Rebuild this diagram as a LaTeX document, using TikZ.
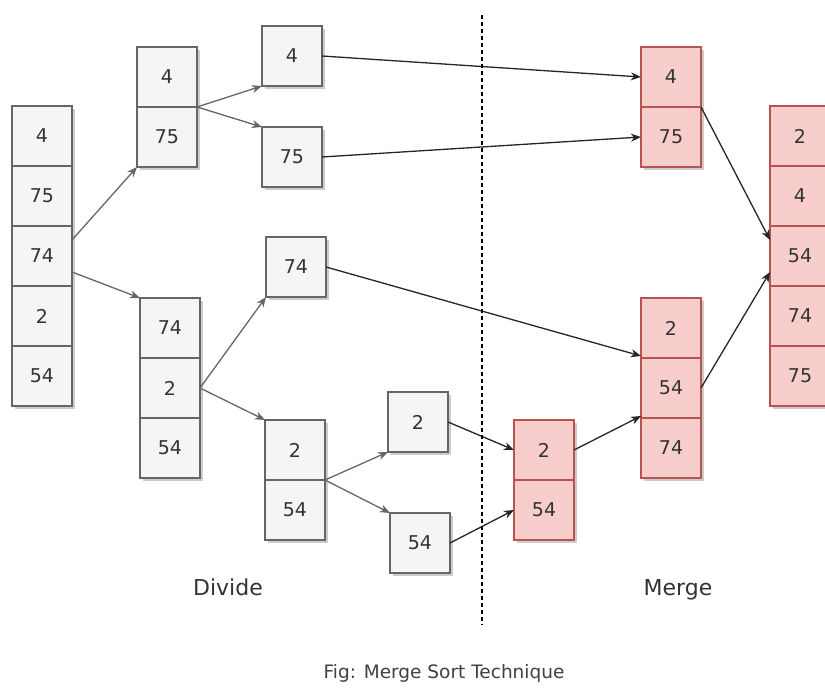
\documentclass[tikz,border=0pt]{standalone}
\usepackage{fontspec}
\setmainfont{DejaVu Sans}
\usetikzlibrary{arrows.meta,shadows}

\definecolor{cellfill}{HTML}{F5F5F5}
\definecolor{celldraw}{HTML}{666666}
\definecolor{mergefill}{HTML}{F8CECC}
\definecolor{mergedraw}{HTML}{B85450}
\definecolor{txt}{HTML}{333333}

\tikzset{
  cellshadow/.style={drop shadow={shadow xshift=3pt,shadow yshift=-3pt,fill=black,opacity=0.2}},
  cell/.style={rectangle,draw=celldraw,fill=cellfill,line width=1.2pt,
    minimum width=60pt,minimum height=60pt,inner sep=0pt,outer sep=0pt,
    font=\fontsize{19}{22}\selectfont,text=txt,cellshadow},
  mcell/.style={cell,draw=mergedraw,fill=mergefill},
  tip/.style={-{Stealth[length=10pt,width=8pt,inset=3pt]}},
  div/.style={draw=celldraw,line width=1.3pt,tip},
  mrg/.style={draw=black!85,line width=1.3pt,tip},
  lbl/.style={font=\fontsize{22}{26}\selectfont,text=txt,inner sep=0pt,anchor=base},
}

\begin{document}
\begin{tikzpicture}[x=1pt,y=-1pt]
\useasboundingbox (0,0) rectangle (825,693);

% unsorted input column
\node[cell] (L1) at (42,136) {4};
\node[cell] (L2) at (42,196) {75};
\node[cell] (L3) at (42,256) {74};
\node[cell] (L4) at (42,316) {2};
\node[cell] (L5) at (42,376) {54};

% first split
\node[cell] (A1) at (167,77) {4};
\node[cell] (A2) at (167,137) {75};
\node[cell] (B1) at (170,328) {74};
\node[cell] (B2) at (170,388) {2};
\node[cell] (B3) at (170,448) {54};

% second split
\node[cell] (C) at (292,56) {4};
\node[cell] (D) at (292,157) {75};
\node[cell] (E) at (296,267) {74};
\node[cell] (F1) at (295,450) {2};
\node[cell] (F2) at (295,510) {54};

% third split
\node[cell] (G) at (418,422) {2};
\node[cell] (H) at (420,543) {54};

% merged runs
\node[mcell] (M1) at (544,450) {2};
\node[mcell] (M2) at (544,510) {54};
\node[mcell] (P1) at (671,77) {4};
\node[mcell] (P2) at (671,137) {75};
\node[mcell] (Q1) at (671,328) {2};
\node[mcell] (Q2) at (671,388) {54};
\node[mcell] (Q3) at (671,448) {74};

% sorted output column
\node[mcell] (S1) at (800,136) {2};
\node[mcell] (S2) at (800,196) {4};
\node[mcell] (S3) at (800,256) {54};
\node[mcell] (S4) at (800,316) {74};
\node[mcell] (S5) at (800,376) {75};

% divide arrows
\draw[div] ([yshift=-14pt]L3.north east) -- (A2.south west);
\draw[div] ([yshift=14pt]L3.south east) -- (B1.north west);
\draw[div] (A1.south east) -- (C.south west);
\draw[div] (A1.south east) -- (D.north west);
\draw[div] (B2.east) -- (E.south west);
\draw[div] (B2.east) -- (F1.north west);
\draw[div] (F1.south east) -- (G.south west);
\draw[div] (F1.south east) -- (H.north west);

% merge arrows
\draw[mrg] (C.east) -- (P1.west);
\draw[mrg] (D.east) -- (P2.west);
\draw[mrg] (E.east) -- ([yshift=2pt]Q1.south west);
\draw[mrg] (G.east) -- (M1.west);
\draw[mrg] (H.east) -- (M2.west);
\draw[mrg] (M1.east) -- ([yshift=2pt]Q2.south west);
\draw[mrg] (P1.south east) -- ([yshift=-14pt]S3.north west);
\draw[mrg] (Q2.east) -- ([yshift=14pt]S3.south west);

% divider between the two phases
\coordinate (sepTop) at (482,15);
\coordinate (sepBot) at (482,625);
\draw[black,line width=1.1pt,dash pattern=on 4pt off 3pt] (sepTop) -- (sepBot);

% phase labels and caption
\node[lbl] (divlbl) at (228,595) {Divide};
\node[lbl] (mrglbl) at (678,595) {Merge};
\node[lbl,font=\fontsize{18.5}{22}\selectfont,text=black!75] (cap) at (444,678) {Fig: Merge Sort Technique};
\end{tikzpicture}
\end{document}
